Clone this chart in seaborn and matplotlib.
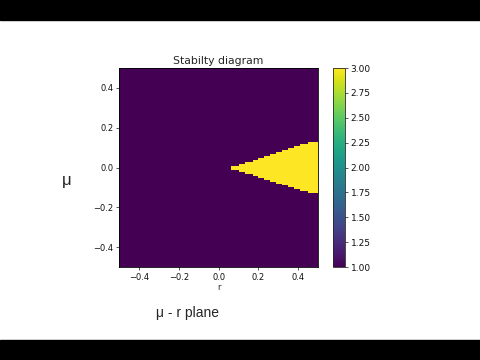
import numpy as np
import matplotlib
matplotlib.use("Agg")
import matplotlib.pyplot as plt
import seaborn as sns

# --- DATA ---
# grid of r (columns) and mu (rows), 100 x 100 cells over [-0.5, 0.5]
n_cells = 100
tick_vals = [-0.4, -0.2, 0.0, 0.2, 0.4]
tick_labels = ["\u22120.4", "\u22120.2", "0.0", "0.2", "0.4"]
cbar_ticks = [1.00, 1.25, 1.50, 1.75, 2.00, 2.25, 2.50, 2.75, 3.00]

# stable (value 3) wedge: first column index and half-height (in cells) of each column
wedge_start_col = 56
wedge_half_cells = [1, 1, 1, 1, 2, 2, 2, 3, 3, 3, 3, 4, 4, 4, 5, 5, 5, 6, 6, 6,
                    7, 7, 7, 8, 8, 8, 9, 9, 9, 10, 10, 10, 11, 11, 11, 12, 12, 12, 12,
                    13, 13, 13, 13, 13]
low_value = 1.0
high_value = 3.0

# build the field (row 0 = mu -0.5 at bottom after flip)
Z = np.full((n_cells, n_cells), low_value)
mid = n_cells // 2
for k, h in enumerate(wedge_half_cells):
    Z[mid - h:mid + h, wedge_start_col + k] = high_value

# --- PLOT ---
sns.set_theme(style="white")
plt.rcParams["font.family"] = ["DejaVu Sans"]

fig = plt.figure(figsize=(4.8, 3.6), dpi=100)
ax = fig.add_axes([0.248, 0.258, 0.415, 0.553])
cax = fig.add_axes([0.694, 0.258, 0.025, 0.553])

sns.heatmap(Z[::-1], cmap="viridis", vmin=1, vmax=3, ax=ax, cbar_ax=cax,
            xticklabels=False, yticklabels=False)

pos = [(v + 0.5) * n_cells for v in tick_vals]
ax.set_xticks(pos)
ax.set_xticklabels(tick_labels, fontsize=6, rotation=0)
ax.set_yticks([n_cells - p for p in pos])
ax.set_yticklabels(tick_labels, fontsize=6, rotation=0)
ax.tick_params(axis="both", length=2.5, width=0.5, pad=1.5, direction="out",
               bottom=True, left=True, colors="#111111")
for s in ax.spines.values():
    s.set_visible(True)
    s.set_linewidth(0.6)
    s.set_color("black")
ax.set_title("Stabilty diagram", fontsize=7.8, pad=3)
ax.set_xlabel("r", fontsize=6, labelpad=1)
ax.set_ylabel("")

cb = ax.collections[0].colorbar
cb.set_ticks(cbar_ticks)
cb.set_ticklabels([f"{t:.2f}" for t in cbar_ticks])
cb.ax.tick_params(labelsize=6.5, length=2.5, width=0.5, pad=1.5, right=True,
                  colors="#111111")
cb.outline.set_visible(True)
cb.outline.set_linewidth(0.6)

# caption texts
fig.text(62 / 480, 1 - 181 / 360, "\u03bc", fontsize=12, family="Liberation Sans",
         va="center", ha="left")
fig.text(156 / 480, 1 - 313 / 360, "\u03bc - r plane", fontsize=10,
         family="Liberation Sans", va="center", ha="left")

# letterbox bars
fig.patches.append(plt.Rectangle((0, 1 - 20 / 360), 1, 20 / 360, transform=fig.transFigure,
                                 color="black", zorder=0))
fig.patches.append(plt.Rectangle((0, 0), 1, 20 / 360, transform=fig.transFigure,
                                 color="black", zorder=0))

fig.savefig("out.png", dpi=100)
